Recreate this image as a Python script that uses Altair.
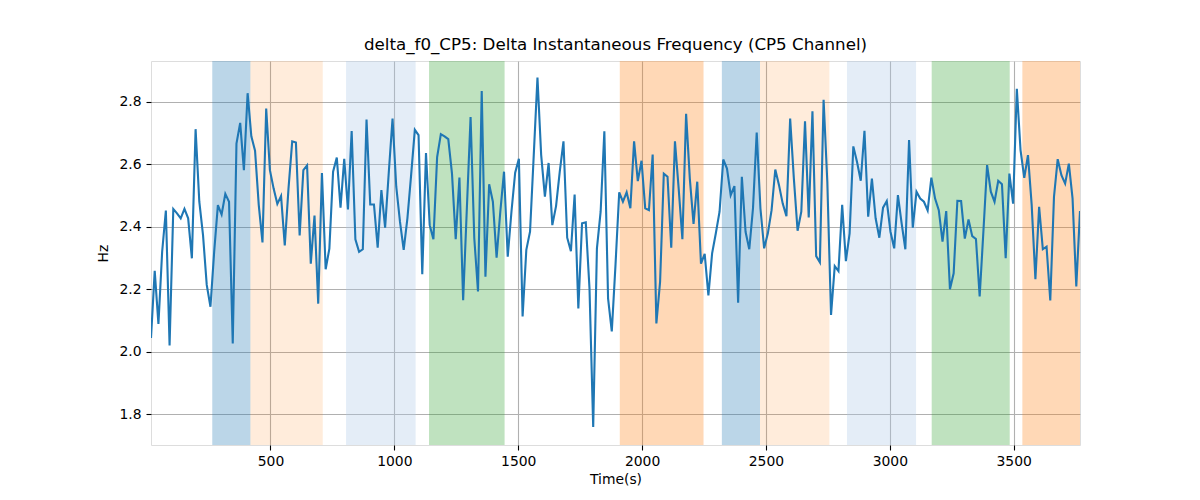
import altair as alt
import pandas as pd

# ---- data ----
t_start = 17.7
t_step = 15.0
delta_f0 = [
    2.044, 2.259, 2.089, 2.320, 2.452, 2.020, 2.457, 2.443, 2.427, 2.457,
    2.427, 2.299, 2.712, 2.480, 2.373, 2.214, 2.144, 2.320, 2.469, 2.439,
    2.505, 2.480, 2.027, 2.666, 2.732, 2.581, 2.827, 2.689, 2.643, 2.469,
    2.350, 2.778, 2.581, 2.522, 2.473, 2.498, 2.340, 2.522, 2.673, 2.669,
    2.372, 2.581, 2.596, 2.282, 2.436, 2.154, 2.572, 2.264, 2.330, 2.576,
    2.621, 2.461, 2.617, 2.455, 2.706, 2.360, 2.320, 2.328, 2.743, 2.471,
    2.471, 2.333, 2.517, 2.397, 2.576, 2.746, 2.528, 2.416, 2.326, 2.427,
    2.565, 2.710, 2.693, 2.248, 2.636, 2.405, 2.360, 2.623, 2.696, 2.689,
    2.680, 2.570, 2.360, 2.557, 2.165, 2.459, 2.751, 2.363, 2.193, 2.834,
    2.240, 2.536, 2.480, 2.301, 2.448, 2.576, 2.304, 2.448, 2.573, 2.617,
    2.113, 2.326, 2.384, 2.629, 2.877, 2.629, 2.496, 2.604, 2.405, 2.466,
    2.576, 2.673, 2.365, 2.322, 2.503, 2.139, 2.411, 2.414, 2.203, 1.760,
    2.331, 2.448, 2.705, 2.171, 2.065, 2.278, 2.510, 2.480, 2.510, 2.459,
    2.673, 2.546, 2.611, 2.459, 2.453, 2.631, 2.091, 2.224, 2.570, 2.560,
    2.333, 2.673, 2.522, 2.360, 2.761, 2.554, 2.409, 2.544, 2.282, 2.313,
    2.180, 2.315, 2.379, 2.448, 2.615, 2.586, 2.501, 2.530, 2.157, 2.560,
    2.384, 2.328, 2.459, 2.701, 2.459, 2.331, 2.379, 2.453, 2.583, 2.533,
    2.474, 2.434, 2.746, 2.554, 2.387, 2.448, 2.737, 2.430, 2.769, 2.306,
    2.286, 2.806, 2.544, 2.118, 2.274, 2.258, 2.470, 2.290, 2.379, 2.657,
    2.607, 2.547, 2.707, 2.432, 2.554, 2.427, 2.365, 2.461, 2.482, 2.384,
    2.331, 2.501, 2.411, 2.328, 2.677, 2.397, 2.512, 2.490, 2.480, 2.452,
    2.557, 2.490, 2.453, 2.352, 2.450, 2.200, 2.251, 2.483, 2.482, 2.362,
    2.423, 2.370, 2.361, 2.177, 2.384, 2.597, 2.512, 2.480, 2.547, 2.536,
    2.299, 2.570, 2.474, 2.841, 2.645, 2.556, 2.629, 2.469, 2.232, 2.464,
    2.328, 2.336, 2.164, 2.496, 2.616, 2.565, 2.538, 2.602, 2.490, 2.209,
    2.450,
]
time_s = [round(t_start + t_step * i, 1) for i in range(len(delta_f0))]

span_start = [265, 419, 805, 1140, 1910, 2322, 2476, 2827, 3169, 3535]
span_end = [419, 711, 1086, 1445, 2248, 2476, 2756, 3106, 3484, 3768]
span_color = ["#1f77b4", "#ff7f0e", "#aec7e8", "#2ca02c", "#ff7f0e",
              "#1f77b4", "#ff7f0e", "#aec7e8", "#2ca02c", "#ff7f0e"]
span_alpha = [0.3, 0.15, 0.33, 0.3, 0.3, 0.3, 0.15, 0.33, 0.3, 0.3]

x_ticks = [500, 1000, 1500, 2000, 2500, 3000, 3500]
y_ticks = [1.8, 2.0, 2.2, 2.4, 2.6, 2.8]

x_domain = [17.7, 3767.7]
y_domain = [1.702, 2.93]

# ---- tables ----
line_df = pd.DataFrame({"t": time_s, "f": delta_f0})
span_df = pd.DataFrame({"start": span_start, "end": span_end,
                        "color": span_color, "alpha": span_alpha})

W, H = 929, 384
FONT = "DejaVu Sans"

x_scale = alt.Scale(domain=x_domain, nice=False, zero=False)
y_scale = alt.Scale(domain=y_domain, nice=False, zero=False)

x_axis = alt.Axis(values=x_ticks, format="d", title="Time(s)",
                  grid=True, gridColor="#b0b0b0", gridWidth=1.1,
                  tickColor="black", tickSize=5, tickWidth=1.1,
                  labelFont=FONT, labelFontSize=13.9, labelColor="black",
                  labelPadding=4, titleFont=FONT, titleFontSize=13.9,
                  titleFontWeight="normal", titleColor="black",
                  titlePadding=5, domain=False)
y_axis = alt.Axis(values=y_ticks, format=".1f", title="Hz",
                  grid=True, gridColor="#b0b0b0", gridWidth=1.1,
                  tickColor="black", tickSize=5, tickWidth=1.1,
                  labelFont=FONT, labelFontSize=13.9, labelColor="black",
                  labelPadding=5, titleFont=FONT, titleFontSize=13.9,
                  titleFontWeight="normal", titleColor="black",
                  titlePadding=8, domain=False)

spans = alt.Chart(span_df).mark_rect(clip=True).encode(
    x=alt.X("start:Q", scale=x_scale, axis=x_axis),
    x2="end:Q",
    y=alt.value(0),
    y2=alt.value(H),
    color=alt.Color("color:N", scale=None),
    opacity=alt.Opacity("alpha:Q", scale=None),
)

line = alt.Chart(line_df).mark_line(color="#1f77b4", strokeWidth=2.1, clip=True).encode(
    x=alt.X("t:Q", scale=x_scale, axis=x_axis),
    y=alt.Y("f:Q", scale=y_scale, axis=y_axis),
)

chart = alt.layer(spans, line).properties(
    width=W, height=H,
    title=alt.TitleParams("delta_f0_CP5: Delta Instantaneous Frequency (CP5 Channel)",
                          font=FONT, fontSize=16.7, fontWeight="normal",
                          color="black", anchor="middle", offset=7),
    autosize=alt.AutoSizeParams(type="none"),
    padding={"left": 143, "top": 53, "right": 100, "bottom": 50},
).configure_view(stroke="black", strokeWidth=1.1).configure(background="white")

chart.save("out.html", embed_options={"renderer": "svg", "actions": False})
